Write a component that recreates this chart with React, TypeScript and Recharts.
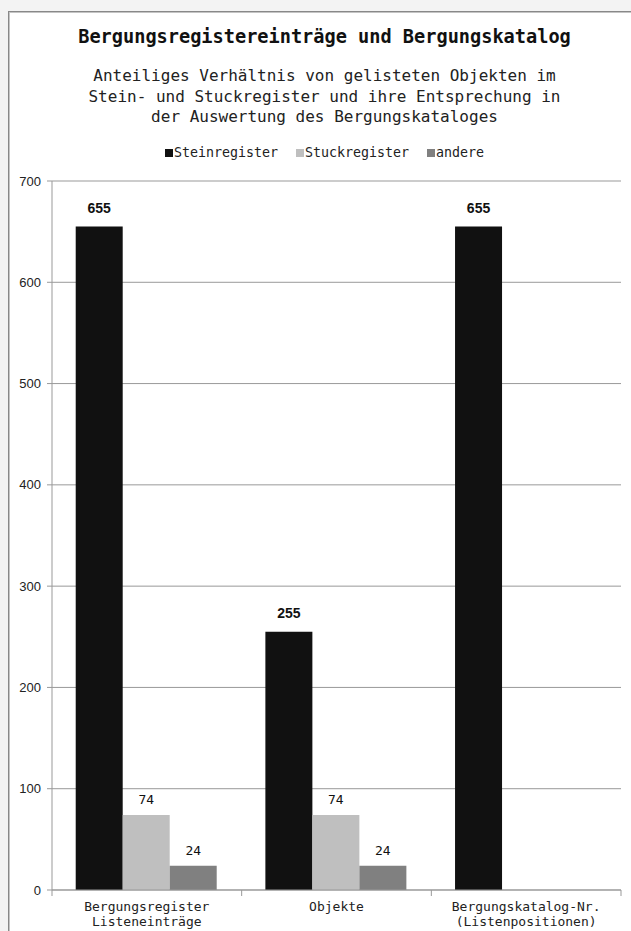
import React from 'react';
import { BarChart, Bar, XAxis, YAxis, CartesianGrid, LabelList } from 'recharts';

// categories (each label split into its text lines)
const categories: string[][] = [
  ['Bergungsregister', 'Listeneinträge'],
  ['Objekte'],
  ['Bergungskatalog-Nr.', '(Listenpositionen)'],
];
const steinregister = [655, 255, 655];
const stuckregister: (number | null)[] = [74, 74, null];
const andere: (number | null)[] = [24, 24, null];
const yTicks = [0, 100, 200, 300, 400, 500, 600, 700];

const series = [
  { key: 'stein', name: 'Steinregister', color: '#111111', bold: true },
  { key: 'stuck', name: 'Stuckregister', color: '#bfbfbf', bold: false },
  { key: 'andere', name: 'andere', color: '#808080', bold: false },
];

const data = categories.map((lines, i) => ({
  name: lines.join(' '),
  stein: steinregister[i],
  stuck: stuckregister[i],
  andere: andere[i],
}));

const MONO = '"DejaVu Sans Mono", "Liberation Mono", monospace';
const SANS = '"Liberation Sans", Arial, sans-serif';

const W = 631;
const H = 931;
const PLOT_LEFT = 52;
const PLOT_RIGHT = 621;
const PLOT_TOP = 181;
const PLOT_BOTTOM = 890;
const BAND = (PLOT_RIGHT - PLOT_LEFT) / categories.length;

const CategoryTick = (props: any) => {
  const { x, y, index } = props;
  const lines = categories[index] || [];
  return (
    <g>
      {index === 0 && (
        <line x1={x - BAND / 2} x2={x - BAND / 2} y1={y} y2={y + 6} stroke="#999" />
      )}
      <line x1={x + BAND / 2} x2={x + BAND / 2} y1={y} y2={y + 6} stroke="#999" />
      {lines.map((line, i) => (
        <text
          key={i}
          x={x}
          y={y + 21 + i * 15}
          textAnchor="middle"
          fontFamily={MONO}
          fontSize={13}
          fill="#222"
        >
          {line}
        </text>
      ))}
    </g>
  );
};

const valueLabel = (bold: boolean) => (props: any) => {
  const { x, y, width, value } = props;
  if (value == null || value === 0) return null;
  return (
    <text
      x={x + width / 2}
      y={y - (bold ? 14 : 11)}
      textAnchor="middle"
      fontFamily={bold ? SANS : MONO}
      fontWeight={bold ? 'bold' : 'normal'}
      fontSize={bold ? 14 : 13}
      fill="#111"
    >
      {value}
    </text>
  );
};

const App: React.FC = () => {
  return (
    <div
      style={{
        position: 'fixed',
        left: 0,
        top: 0,
        width: W,
        height: H,
        background: '#f3f3f3',
        overflow: 'hidden',
      }}
    >
      <div
        style={{
          position: 'absolute',
          left: 8,
          top: 11,
          width: 700,
          height: 1000,
          background: '#fff',
          borderLeft: '1px solid #888',
          borderTop: '1px solid #888',
          boxShadow: 'inset 1px 1px 0 #c4c4c4',
        }}
      />
      <div
        style={{
          position: 'absolute',
          left: 9,
          width: W,
          top: 25,
          textAlign: 'center',
          fontFamily: MONO,
          color: '#111',
        }}
      >
        <div style={{ fontSize: 18.6, fontWeight: 'bold', lineHeight: '24px' }}>
          Bergungsregistereinträge und Bergungskatalog
        </div>
        <div style={{ fontSize: 16, lineHeight: '20.5px', marginTop: 17, color: '#222' }}>
          Anteiliges Verhältnis von gelisteten Objekten im
          <br />
          Stein- und Stuckregister und ihre Entsprechung in
          <br />
          der Auswertung des Bergungskataloges
        </div>
      </div>
      <div
        style={{
          position: 'absolute',
          left: 9,
          width: W,
          top: 144,
          display: 'flex',
          justifyContent: 'center',
          gap: 18,
          fontFamily: MONO,
          fontSize: 13.3,
          lineHeight: '18px',
          color: '#222',
        }}
      >
        {series.map((s) => (
          <span key={s.key} style={{ display: 'flex', alignItems: 'center' }}>
            <span
              style={{
                display: 'inline-block',
                width: 8,
                height: 8,
                background: s.color,
                marginRight: 1,
              }}
            />
            {s.name}
          </span>
        ))}
      </div>
      <div style={{ position: 'absolute', left: 0, top: 0 }}>
        <BarChart
          width={W}
          height={H}
          data={data}
          margin={{ top: PLOT_TOP, right: W - PLOT_RIGHT, bottom: 5, left: 0 }}
          barCategoryGap="12.5%"
          barGap={0}
        >
          <CartesianGrid vertical={false} stroke="#999" />
          <XAxis
            dataKey="name"
            height={H - PLOT_BOTTOM - 5}
            axisLine={{ stroke: '#999' }}
            tickLine={false}
            tickSize={0}
            tickMargin={0}
            interval={0}
            tick={<CategoryTick />}
          />
          <YAxis
            width={PLOT_LEFT}
            domain={[0, 700]}
            ticks={yTicks}
            axisLine={{ stroke: '#999' }}
            tickLine={{ stroke: '#999' }}
            tickSize={5}
            tickMargin={6}
            tick={{ fontFamily: SANS, fontSize: 13, fill: '#222' }}
          />
          {series.map((s) => (
            <Bar
              key={s.key}
              dataKey={s.key}
              name={s.name}
              fill={s.color}
              isAnimationActive={false}
            >
              <LabelList dataKey={s.key} content={valueLabel(s.bold)} />
            </Bar>
          ))}
        </BarChart>
      </div>
    </div>
  );
};

export default App;
